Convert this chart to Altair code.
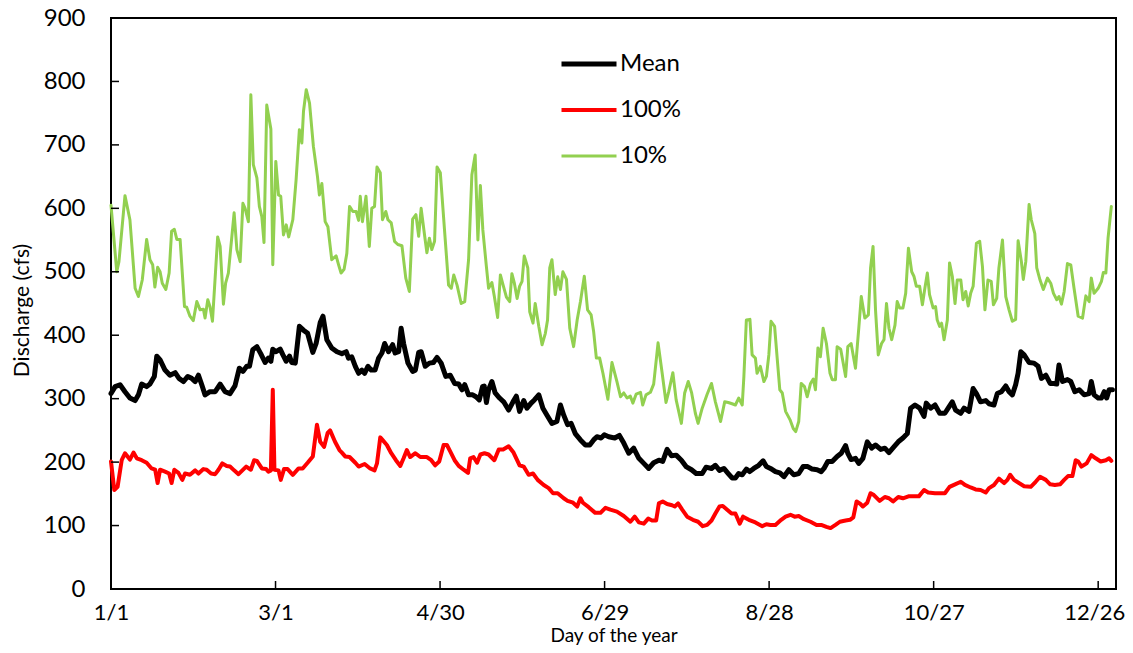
import altair as alt
import pandas as pd

# ---- data (day of year, discharge in cfs) ----
mean_days = [1, 2.5, 4.3, 6.1, 7.9, 9.8, 11, 12.2, 14, 15.2, 16.8, 17.7, 18.9, 20.7, 22.5, 24.4, 25.8, 27.4,
             29, 30.4, 31.7, 32.9, 34.1, 35.3, 37.1, 39, 40.8, 42.6, 44.4, 46.2, 47.8, 49.1, 50.5, 51.5, 52.7,
             54.2, 55.6, 57.2, 58.4, 59.3, 60, 61.2, 62.7, 63.7, 64.9, 66.1, 66.9, 68.2, 69.7, 71.2, 72.7, 74.6,
             75.8, 77.3, 78.3, 79.7, 81.5, 83.4, 85.2, 86.8, 87.6, 88.8, 90.1, 91.3, 92.5, 93.5, 94.7, 95.9, 97.3,
             98.6, 99.8, 100.8, 102.2, 103.7, 104.6, 105.9, 106.8, 107.7, 109.3, 111, 112, 113.2, 114.1, 115.6,
             117.1, 118.6, 119.9, 121.4, 123.1, 124.7, 126.3, 127.8, 129, 130, 131.4, 132.9, 134.1, 135.3, 136.5,
             137.1, 137.9, 138.7, 139.9, 141.1, 142.7, 144.2, 146, 147.6, 148.8, 150, 151.5, 152.7, 154.2, 155.4,
             157, 158.5, 160, 161.8, 163.6, 164.9, 166.1, 167.5, 168.8, 170.3, 172.2, 174, 175.6, 177, 178.2,
             179.7, 180.9, 182.5, 184.7, 186.4, 188, 189.8, 191.6, 193.5, 195.3, 197.1, 198.9, 200.8, 202.2,
             203.8, 205.4, 207.1, 209, 210.7, 212.7, 214.4, 216.6, 218, 220, 221.4, 222.9, 224.5, 226.1, 227.5,
             228.7, 229.9, 231.2, 232.7, 233.9, 235.4, 237.2, 238.8, 240, 241.5, 243.3, 244.9, 246.4, 248.2, 250,
             251.8, 253.4, 255.1, 256.7, 258.5, 260, 261, 262.4, 264, 265.8, 267.3, 268.9, 269.7, 270.9, 272.5,
             273.7, 275.2, 276.8, 278.4, 279.8, 281.7, 283.2, 284.7, 286.5, 288.1, 289.8, 291.4, 292.6, 294.2,
             295.9, 297.5, 298.3, 299.9, 301.5, 303.2, 305.1, 306.6, 307.8, 309, 310.9, 312.1, 313.9, 315.4,
             316.6, 318.1, 320, 321.2, 323, 324.2, 325.7, 327.3, 328.5, 329.7, 330.9, 331.8, 332.8, 334, 335.8,
             337.6, 339.1, 340.3, 341.9, 343.5, 344.9, 345.9, 346.7, 348, 349.8, 351, 352.5, 354.1, 355.9, 357.7,
             358.5, 359.5, 361, 362.2, 363.2, 364.1, 365, 366.2]
mean_vals = [308, 319, 322, 311, 301, 297, 306, 323, 319, 323, 335, 367, 361, 345, 337, 341, 332, 327,
             335, 332, 327, 337, 322, 306, 311, 311, 323, 311, 308, 320, 348, 343, 351, 351, 377,
             382, 371, 357, 364, 359, 378, 374, 378, 369, 359, 367, 357, 356, 414, 408, 403, 373,
             387, 420, 430, 393, 380, 374, 371, 374, 364, 366, 351, 340, 345, 340, 351, 345, 345,
             364, 372, 387, 374, 385, 372, 374, 411, 387, 356, 343, 345, 373, 374, 351,
             356, 357, 365, 356, 335, 337, 324, 323, 314, 322, 306, 306, 303, 298, 319,
             320, 294, 314, 327, 309, 301, 295, 282, 295, 304, 280, 297, 285, 293, 298,
             306, 285, 274, 261, 264, 290, 274, 259, 261, 245, 235, 227, 227, 235, 240,
             238, 243, 240, 238, 242, 230, 214, 222, 206, 198, 190, 199, 203, 201,
             220, 210, 211, 203, 193, 188, 182, 182, 192, 190, 195, 187, 190, 182, 175,
             175, 182, 180, 189, 185, 190, 195, 202, 193, 190, 185, 183, 177, 188, 180,
             182, 193, 193, 189, 188, 185, 190, 201, 201, 209, 214, 226, 214, 204, 206,
             198, 206, 232, 222, 227, 220, 222, 215, 224, 232, 238, 245, 285, 290,
             285, 272, 293, 285, 290, 277, 277, 287, 295, 282, 277, 285, 280, 316,
             308, 295, 297, 292, 290, 308, 311, 320, 311, 306, 322, 340, 374, 369, 357,
             356, 351, 332, 337, 324, 324, 323, 353, 327, 330, 327, 311, 314, 306, 308,
             327, 306, 301, 301, 311, 301, 314, 314]

p100_days = [1, 2.2, 3.4, 4.9, 6.1, 7.9, 9.2, 10.4, 12.2, 14, 15.8, 17.1, 18, 18.9, 20.7, 22.2, 23.1, 24.1,
             25.6, 27, 28, 29.8, 31.7, 32.9, 34.7, 35.9, 37.5, 39, 40.2, 41.6, 43.2, 44.4, 45.9, 47.5, 50.3,
             52, 53.2, 54.2, 56, 57.6, 58.4, 59.3, 60, 60.6, 62.1, 62.9, 64.1, 65.4, 67.3, 69.4, 70.9, 72.7,
             74.6, 76.1, 77.3, 78.7, 80, 80.9, 82.7, 84.3, 85.2, 86.4, 88, 90.1, 91.3, 93.5, 95.5, 97.1, 98,
             99.2, 100, 101.6, 103.2, 104.9, 106.5, 107.7, 108.9, 110.1, 112, 113.8, 116.2, 117.8, 119.2,
             120.7, 122.3, 123.5, 124.7, 126.3, 127.8, 129.6, 131.2, 132, 133.2, 134.5, 135.7, 137.2, 138.7,
             140.8, 142.4, 144, 146, 147.8, 150, 151.5, 153.3, 154.9, 156.6, 158.8, 160.6, 162.2, 163.9,
             166.1, 167.5, 169.5, 171, 172.2, 173.1, 175.2, 177.6, 179.5, 181.3, 183.1, 185.5, 188, 190.4,
             192, 193.5, 195.3, 196.9, 198.3, 199.8, 200.8, 202.2, 203.8, 205.6, 206.6, 207.8, 209.3, 211.1,
             213.2, 215.1, 216.8, 218.4, 220, 221.4, 222.9, 224.1, 225.7, 227.3, 228.7, 230.3, 231.5, 233.6,
             236, 238.5, 240, 241.5, 243.3, 245.4, 247, 248.8, 250.3, 251.8, 253.7, 256.1, 258.3, 260, 261.9,
             263.4, 265.2, 266.8, 268.9, 270.5, 271.7, 272.9, 274.3, 275.2, 276.8, 278, 279.2, 281.3, 283.2,
             284.7, 286.2, 288.1, 289.8, 291.8, 293.5, 295.6, 297.5, 299, 301.5, 303.5, 305.1, 306.8, 308.8,
             310.9, 312.4, 314.5, 316.3, 318.1, 320, 321.2, 323, 324.8, 326.7, 327.9, 328.9, 330.3, 332.1,
             334, 336.4, 338.2, 339.8, 341.9, 343.5, 345.2, 347.1, 348.6, 350, 351.6, 352.8, 353.7, 354.9,
             356.8, 358.5, 360.1, 361.9, 363.8, 365, 365.8]
p100_vals = [201, 156, 161, 203, 214, 204, 215, 206, 203, 199, 190, 188, 167, 188, 185, 182, 167, 188,
             183, 172, 182, 180, 187, 182, 189, 188, 182, 181, 188, 198, 194, 193, 187, 181, 193,
             188, 203, 202, 190, 189, 185, 187, 314, 188, 187, 172, 189, 189, 180, 190, 190, 199,
             209, 259, 232, 224, 246, 250, 232, 219, 215, 209, 208, 199, 193, 197, 190, 187, 198,
             239, 235, 227, 214, 203, 194, 206, 219, 208, 214, 208, 208, 203, 195,
             201, 227, 227, 217, 203, 194, 188, 183, 206, 208, 199, 212, 214, 212,
             203, 220, 220, 225, 215, 195, 193, 180, 182, 172, 164, 159, 151, 151,
             143, 139, 136, 130, 143, 136, 129, 120, 120, 128, 125, 122, 115, 106,
             114, 105, 103, 111, 108, 108, 135, 138, 134, 132, 130, 135, 125, 114,
             109, 106, 99, 101, 108, 119, 130, 131, 125, 119, 119, 103, 114, 109,
             105, 99, 102, 101, 101, 109, 114, 117, 114, 115, 110, 106, 101, 101, 98,
             96, 101, 106, 108, 109, 113, 138, 134, 130, 136, 151, 148, 139, 145,
             143, 138, 145, 143, 146, 146, 146, 156, 152, 151, 151, 151, 161, 165,
             169, 164, 160, 157, 156, 152, 159, 164, 174, 167, 172, 180, 172, 167,
             162, 161, 169, 177, 172, 165, 164, 165, 172, 178, 178, 203, 201, 193,
             198, 211, 206, 201, 203, 206, 202]

p10_days = [1, 3.1, 3.9, 6.1, 7.9, 9.8, 11, 12.4, 14, 15.2, 16.2, 17, 18, 18.9, 19.7, 21, 22.2, 23.1, 24.1,
            25, 26.2, 27.8, 28.6, 29.8, 31, 32.3, 33.5, 34.7, 35.3, 36.3, 37.1, 38, 39.9, 40.8, 42, 42.8,
            43.8, 45.9, 46.9, 48.1, 49.1, 49.9, 51.1, 52, 52.9, 54.2, 55.1, 56, 56.8, 57.8, 59.3, 60, 61.1,
            62.1, 62.9, 63.9, 64.9, 65.8, 67.3, 68.5, 69.7, 70.6, 71.2, 72.2, 73.4, 74.8, 76.3, 77, 77.9,
            79.1, 80.1, 81.5, 83.1, 84, 84.9, 86, 87, 88, 89.2, 90.4, 91.3, 91.9, 92.7, 94, 95.2, 96.1, 97.1,
            98, 99.2, 100, 101.2, 102, 103.2, 104.4, 105.6, 107.1, 108.5, 109.8, 111, 112.2, 113.2, 114.1,
            115.4, 116.2, 117.1, 118, 119, 119.9, 121.1, 122.9, 124.1, 125.1, 126, 127.2, 128.7, 130, 131.4,
            132.6, 133.8, 134.8, 135.7, 136.6, 137.9, 138.7, 139.9, 140.8, 142, 143, 144, 145.2, 146.4,
            147.2, 148.1, 149.1, 150, 150.9, 151.7, 153, 153.7, 154.9, 155.7, 157, 158.2, 159.4, 160.2, 161,
            161.8, 163, 163.9, 164.9, 165.8, 167.1, 168.3, 169.7, 171, 172.2, 173.6, 174.8, 176.1, 177, 178,
            179.2, 180.4, 182.2, 183.7, 185.5, 186.8, 188, 189.2, 190.4, 191.3, 192.5, 194.1, 194.9, 196.1,
            197.7, 198.9, 200.5, 202, 203.4, 204.4, 205.9, 207.1, 209, 210.2, 211.5, 212.7, 214.1, 215.1,
            216.6, 218.4, 220, 221.4, 223.3, 224.8, 226.1, 227.5, 228.7, 229.9, 231.2, 231.8, 232.7, 234,
            234.8, 236, 236.6, 237.8, 239.1, 240, 240.9, 241.7, 243, 243.9, 244.9, 245.8, 247, 248.6, 249.8,
            250.7, 251.8, 252.7, 253.9, 254.9, 256.1, 257.1, 257.9, 258.8, 259.7, 260.7, 261.9, 263.2, 264,
            265.2, 265.8, 267.1, 268.9, 269.7, 270.9, 272.5, 273.7, 274.6, 275.9, 277.2, 278, 278.9, 279.8,
            280.8, 282, 282.9, 283.8, 284.7, 285.7, 286.9, 287.7, 288.6, 289.8, 290.8, 291.8, 293, 293.8,
            294.7, 295.9, 296.9, 297.8, 298.7, 299.5, 300.8, 301.7, 302.3, 303.2, 303.9, 304.8, 306, 306.8,
            307.8, 308.8, 309.6, 310.9, 311.7, 312.7, 313.6, 314.5, 315.4, 316.6, 317.8, 318.8, 319.7,
            320.8, 322, 322.8, 324, 324.8, 326.1, 327.3, 328.5, 329.7, 330.9, 331.8, 333, 333.7, 334.6,
            335.8, 336.6, 337.9, 338.6, 339.8, 341, 342.5, 343.7, 344.7, 345.9, 346.7, 347.6, 348.6, 349.8,
            351, 352.2, 353.7, 355.3, 356.5, 357.7, 358.5, 359.5, 361, 362.2, 362.9, 363.8, 364.6, 365.8]
p10_vals = [605, 500, 516, 620, 582, 474, 461, 487, 551, 519, 511, 476, 507, 500, 482, 472, 498, 564, 567,
            551, 551, 445, 444, 430, 423, 453, 440, 441, 427, 456, 445, 422, 555, 540, 449, 482,
            498, 593, 535, 516, 608, 600, 579, 779, 669, 648, 603, 587, 546, 763, 725, 511, 674,
            621, 619, 558, 574, 555, 582, 645, 724, 703, 753, 787, 766, 698, 650, 621, 639,
            579, 571, 519, 525, 511, 498, 504, 529, 603, 595, 595, 581, 619, 579, 619, 540, 600, 603,
            665, 656, 582, 595, 582, 577, 548, 543, 541, 490, 469, 583, 590, 556, 600,
            556, 530, 553, 535, 548, 665, 656, 550, 479, 474, 495, 479, 450, 453, 519,
            653, 684, 550, 636, 566, 508, 474, 483, 461, 428, 495, 479, 460, 453,
            497, 482, 458, 477, 485, 525, 506, 437, 419, 450, 414, 385, 403, 424, 506,
            519, 464, 492, 472, 500, 488, 411, 382, 424, 453, 493, 440, 432, 406, 364,
            364, 340, 299, 357, 327, 303, 309, 301, 304, 293, 307, 310, 290, 306,
            310, 323, 388, 340, 294, 311, 341, 298, 261, 309, 327, 310, 277, 261,
            285, 307, 324, 295, 264, 295, 294, 292, 290, 301, 290, 335, 424, 425,
            369, 364, 340, 351, 327, 335, 369, 422, 414, 366, 314, 309, 280, 267, 253,
            248, 264, 324, 319, 303, 324, 331, 314, 380, 366, 411, 387, 340, 330,
            330, 382, 378, 335, 382, 387, 348, 411, 461, 427, 432, 506, 540, 440,
            369, 387, 393, 450, 411, 393, 416, 453, 443, 443, 466, 537, 500, 493,
            477, 477, 448, 474, 498, 464, 443, 445, 424, 414, 419, 393, 424, 514,
            493, 450, 487, 487, 456, 469, 446, 466, 477, 545, 548, 508, 440,
            487, 485, 448, 458, 506, 550, 461, 440, 422, 425, 549, 516, 488, 516,
            606, 582, 560, 506, 487, 472, 490, 482, 466, 456, 461, 449, 469, 513,
            511, 474, 430, 427, 462, 453, 490, 466, 474, 485, 499, 498, 553, 603]

series_names = ["Mean", "100%", "10%"]
series_colors = ["#000000", "#FF0000", "#92D050"]
series_widths = [5, 3, 3.4]

x_tick_days = [1, 61, 121, 181, 241, 301, 361]
x_tick_labels = ["1/1", "3/1", "4/30", "6/29", "8/28", "10/27", "12/26"]
y_tick_values = [0, 100, 200, 300, 400, 500, 600, 700, 800, 900]

# ---- build table ----
rows = []
for name, days, vals in [("Mean", mean_days, mean_vals),
                         ("100%", p100_days, p100_vals),
                         ("10%", p10_days, p10_vals)]:
    for d, v in zip(days, vals):
        rows.append({"series": name, "day": d, "value": v})
df = pd.DataFrame(rows)

label_expr = ""
for d, lab in zip(x_tick_days, x_tick_labels):
    label_expr += f"datum.value == {d} ? '{lab}' : "
label_expr += "''"

FONT = "Lato"

x_scale = alt.Scale(domain=[1, 367.5], nice=False, zero=False)
y_scale = alt.Scale(domain=[0, 900], nice=False)

x_axis = alt.Axis(values=x_tick_days, labelExpr=label_expr, title="Day of the year",
                  ticks=False, domain=False, grid=False,
                  labelFont=FONT, labelFontSize=22, labelColor="black", labelPadding=13,
                  labelFlush=False,
                  labelOffset={"condition": {"test": f"datum.value == {x_tick_days[-1]}", "value": -4},
                               "value": 0},
                  titleFont=FONT, titleFontSize=19, titleFontWeight="normal", titleColor="black",
                  titleBaseline="top", titleY=37)
y_axis = alt.Axis(values=y_tick_values, title="Discharge (cfs)",
                  ticks=False, domain=False, grid=False,
                  labelFont=FONT, labelFontSize=24, labelColor="black", labelPadding=26,
                  labelFlush=False,
                  titleFont=FONT, titleFontSize=21, titleFontWeight="normal", titleColor="black",
                  titleAngle=270, titleAlign="center", titleBaseline="middle",
                  titleX=-89, titleY=292)

legend = alt.Legend(title=None, orient="none", legendX=448, legendY=16,
                    symbolType="stroke", symbolSize=3025, labelFont=FONT, labelFontSize=24,
                    labelColor="black", labelOffset=1, rowPadding=4.5, symbolOffset=0)

lines = alt.Chart(df).mark_line(strokeJoin="round", strokeCap="round").encode(
    x=alt.X("day:Q", scale=x_scale, axis=x_axis),
    y=alt.Y("value:Q", scale=y_scale, axis=y_axis),
    color=alt.Color("series:N", scale=alt.Scale(domain=series_names, range=series_colors),
                    legend=legend),
    strokeWidth=alt.StrokeWidth("series:N", scale=alt.Scale(domain=series_names, range=series_widths),
                                legend=legend),
)

ytick_df = pd.DataFrame({"value": y_tick_values[1:-1]})
yticks = alt.Chart(ytick_df).mark_rule(color="black", strokeWidth=1.5).encode(
    y=alt.Y("value:Q", scale=y_scale, axis=y_axis),
    x=alt.value(0), x2=alt.value(8))

xtick_df = pd.DataFrame({"day": x_tick_days[1:]})
xticks = alt.Chart(xtick_df).mark_rule(color="black", strokeWidth=1.5).encode(
    x=alt.X("day:Q", scale=x_scale, axis=x_axis),
    y=alt.value(571), y2=alt.value(563))

chart = alt.layer(lines, yticks, xticks).properties(
    width=1005, height=571,
    autosize=alt.AutoSizeParams(type="none"),
    padding={"left": 103, "top": 10, "right": 9, "bottom": 56},
    background="white",
).configure_view(stroke="black", strokeWidth=2)

chart.save("out.html", embed_options={"renderer": "svg", "actions": False})
